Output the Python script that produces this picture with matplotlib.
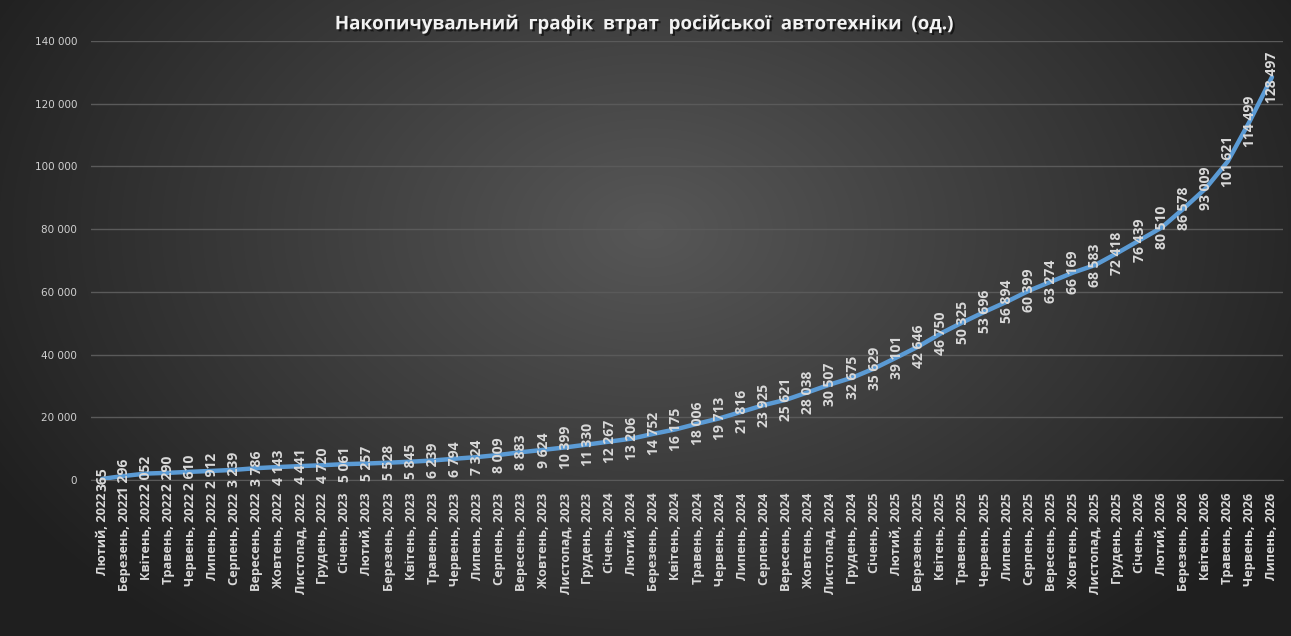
import numpy as np
import matplotlib
matplotlib.use("Agg")
import matplotlib.pyplot as plt
import matplotlib.patheffects as pe

months = ["Лютий", "Березень", "Квітень", "Травень", "Червень", "Липень",
          "Серпень", "Вересень", "Жовтень", "Листопад", "Грудень", "Січень"]

years = [2022]*11 + [2023]*12 + [2024]*12 + [2025]*12 + [2026]*7
month_names = (months[:11] + (months[11:] + months[:11]) * 4)[:54]
labels = [f"{m}, {y}" for m, y in zip(month_names, years)]

values = [365, 1296, 2052, 2290, 2610, 2912, 3239, 3786, 4143, 4441, 4720,
          5061, 5257, 5528, 5845, 6239, 6794, 7324, 8009, 8883, 9624, 10399, 11330,
          12267, 13206, 14752, 16175, 18006, 19713, 21816, 23925, 25621, 28038, 30507, 32675,
          35629, 39101, 42646, 46750, 50325, 53696, 56894, 60399, 63274, 66169, 68583, 72418,
          76439, 80510, 86578, 93009, 101621, 114499, 128497]

yticks = [0, 20000, 40000, 60000, 80000, 100000, 120000, 140000]
title = "Накопичувальний  графік  втрат  російської  автотехніки  (од.)"

def fmt(v):
    return f"{v:,}".replace(",", " ")

W, H = 1291, 636
fig = plt.figure(figsize=(W/100, H/100), dpi=100)

# background radial gradient
bg = fig.add_axes([0, 0, 1, 1])
yy, xx = np.mgrid[0:H, 0:W]
cx, cy = 650, 230
r = np.sqrt(((xx - cx)/760.0)**2 + ((yy - cy)/520.0)**2)
r = np.clip(r, 0, 1)
c = 0x57/255*(1-r) + 0x1f/255*r
img = np.dstack([c, c, c])
bg.imshow(img, aspect='auto', extent=[0, 1, 0, 1], origin='upper')
bg.set_axis_off()

ax = fig.add_axes([91/W, 1-480/H, (1283-91)/W, (480-41)/H])
ax.set_facecolor('none')
x = np.arange(len(values))
ax.plot(x, values, color='#5B9BD5', lw=3.2, solid_joinstyle='round', solid_capstyle='round', zorder=3)

ax.set_xlim(-0.5, len(values)-0.5)
ax.set_ylim(0, 140000)
ax.set_yticks(yticks)
ax.set_yticklabels([fmt(v) for v in yticks], color='#d0d0d0', fontsize=7.5)
ax.grid(axis='y', color='#5a5a5a', lw=1)
ax.set_axisbelow(True)
for s in ['top', 'right', 'left']:
    ax.spines[s].set_visible(False)
ax.spines['bottom'].set_color('#5a5a5a')
ax.tick_params(axis='y', length=0, pad=10)
ax.tick_params(axis='x', length=0, pad=9)
ax.set_xticks(x)
ax.set_xticklabels(labels, rotation=90, color='#d9d9d9', fontsize=9.2, fontweight='bold',
                   family='Open Sans', va='top', ha='center')

for xi, v in zip(x, values):
    ax.text(xi, v, fmt(v), rotation=90, ha='center', va='center', color='#d9d9d9',
            fontsize=10, fontweight='bold', family='Open Sans', zorder=4)

fig.text(645/W, 1-24/H, title, ha='center', va='center', color='#f2f2f2', fontsize=13.5,
         fontweight='bold', family='Open Sans',
         path_effects=[pe.withSimplePatchShadow(offset=(1.5, -1.5), shadow_rgbFace='black', alpha=0.6)])

fig.savefig("out.png", dpi=100)
